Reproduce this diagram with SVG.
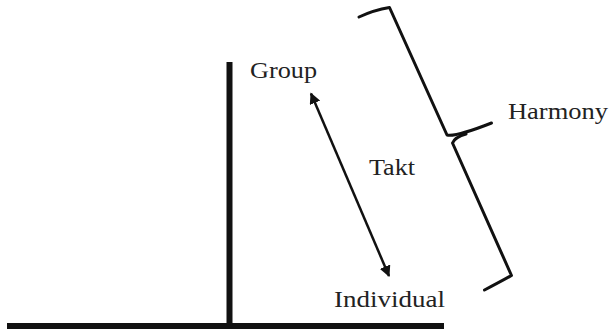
<svg xmlns="http://www.w3.org/2000/svg" width="611" height="330" viewBox="0 0 611 330">
<style>
.lbl{font-family:"Liberation Serif","DejaVu Serif",serif;font-size:23px;fill:#222}
.axis{stroke:#111;stroke-width:6;fill:none}
.brace{stroke:#111;stroke-width:3;fill:none;stroke-linejoin:round;stroke-linecap:round}
.arr{stroke:#111;stroke-width:2.5;fill:none}
</style>
<defs>
<marker id="ah" viewBox="0 0 10 10" refX="9" refY="5" markerWidth="4.5" markerHeight="4.5" orient="auto-start-reverse" markerUnits="strokeWidth">
<path d="M0,0 L10,5 L0,10 Z" fill="#111"/>
</marker>
</defs>
<rect width="611" height="330" fill="#fff"/>
<g id="axes">
<line class="axis" x1="7" y1="326" x2="444" y2="326"/>
<line class="axis" x1="229.5" y1="62" x2="229.5" y2="326"/>
</g>
<g id="connectors">
<line class="arr" x1="311" y1="93.5" x2="389" y2="276" marker-start="url(#ah)" marker-end="url(#ah)"/>
</g>
<g id="brace">
<path class="brace" d="M359,17 Q374,10 389.5,7.5 L447,135 Q456,137 491.5,123"/>
<path class="brace" d="M466,134 Q455,137 452.5,143 L511.5,275.5 Q500,282 484.5,290"/>
</g>
<g id="node-group"><text class="lbl" x="250" y="78" textLength="67" lengthAdjust="spacingAndGlyphs">Group</text></g>
<g id="node-takt"><text class="lbl" x="369" y="175" textLength="46" lengthAdjust="spacingAndGlyphs">Takt</text></g>
<g id="node-harmony"><text class="lbl" x="508" y="119" textLength="100" lengthAdjust="spacingAndGlyphs">Harmony</text></g>
<g id="node-individual"><text class="lbl" x="334" y="307" textLength="111" lengthAdjust="spacingAndGlyphs">Individual</text></g>
</svg>
